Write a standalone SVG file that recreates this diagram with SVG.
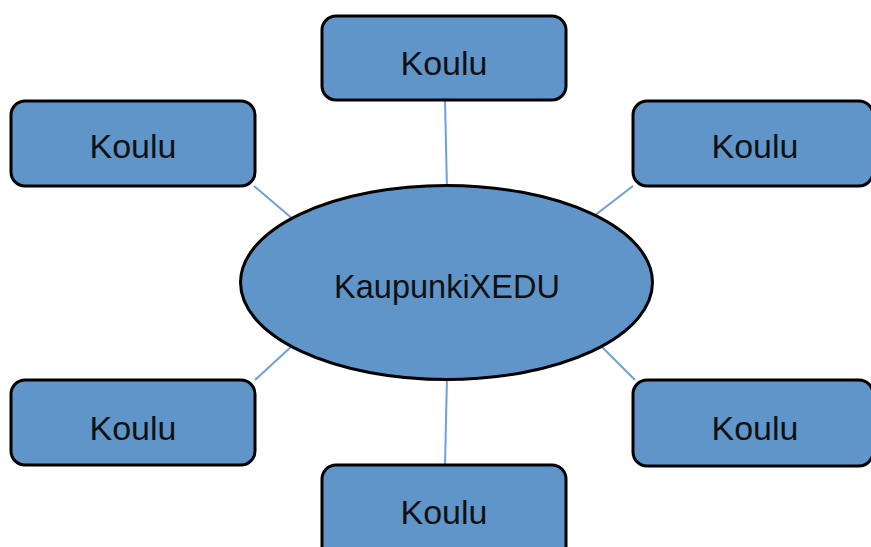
<svg xmlns="http://www.w3.org/2000/svg" width="871" height="547" viewBox="0 0 871 547">
<style>
.box{fill:#6095ca;stroke:#000;stroke-width:3}
.lbl{font-family:"Liberation Sans",Arial,sans-serif;font-size:34px;fill:#111;text-anchor:middle}
.edge{stroke:#6f9fd6;stroke-width:2;fill:none}
</style>
<rect width="871" height="547" fill="#fff"/>
<g id="connectors">
<line class="edge" x1="445" y1="100" x2="447" y2="190"/>
<line class="edge" x1="254" y1="186" x2="294" y2="220"/>
<line class="edge" x1="633" y1="186" x2="594" y2="216"/>
<line class="edge" x1="292" y1="346" x2="255" y2="380"/>
<line class="edge" x1="601" y1="346" x2="635" y2="380"/>
<line class="edge" x1="447" y1="376" x2="445" y2="465"/>
</g>
<g id="center">
<ellipse class="box" cx="446.5" cy="282.5" rx="206" ry="97"/>
<text class="lbl" x="447" y="298" style="font-size:32.5px">KaupunkiXEDU</text>
</g>
<g id="koulu-top">
<rect class="box" x="322" y="16" width="244" height="84" rx="14"/>
<text class="lbl" x="444" y="75">Koulu</text>
</g>
<g id="koulu-top-left">
<rect class="box" x="11" y="101" width="244" height="85" rx="14"/>
<text class="lbl" x="133" y="158">Koulu</text>
</g>
<g id="koulu-top-right">
<rect class="box" x="633" y="101" width="240" height="85" rx="14"/>
<text class="lbl" x="755" y="158">Koulu</text>
</g>
<g id="koulu-bottom-left">
<rect class="box" x="11" y="380" width="244" height="85" rx="14"/>
<text class="lbl" x="133" y="440">Koulu</text>
</g>
<g id="koulu-bottom-right">
<rect class="box" x="633" y="380" width="240" height="86" rx="14"/>
<text class="lbl" x="755" y="440">Koulu</text>
</g>
<g id="koulu-bottom">
<rect class="box" x="322" y="465" width="244" height="100" rx="14"/>
<text class="lbl" x="444" y="524">Koulu</text>
</g>
</svg>
